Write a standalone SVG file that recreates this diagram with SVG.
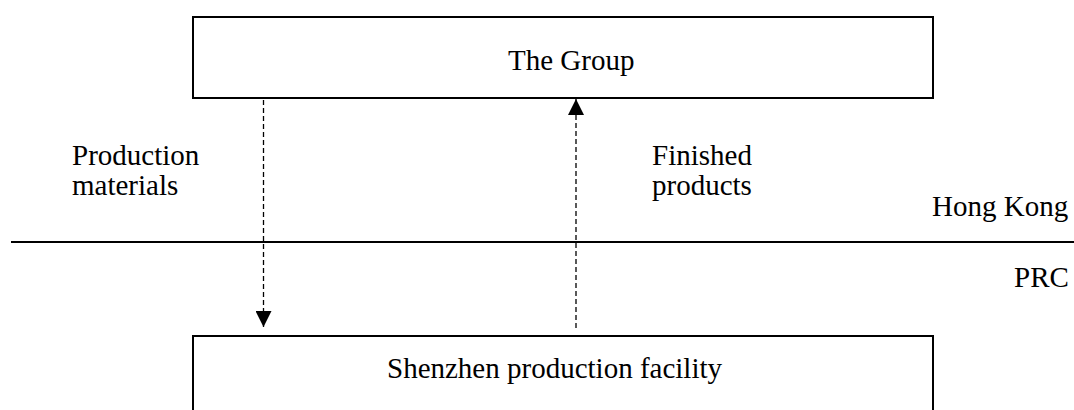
<svg xmlns="http://www.w3.org/2000/svg" width="1074" height="410" viewBox="0 0 1074 410">
<style>
.box{fill:#fff;stroke:#000;stroke-width:2}
.t{font-family:"Liberation Serif","Times New Roman",serif;font-size:29px;fill:#000}
.dash{stroke:#000;stroke-width:1.3;stroke-dasharray:5,3;fill:none}
.line{stroke:#000;stroke-width:2.2}
</style>
<defs>
<marker id="ah" viewBox="0 0 10 10" refX="10" refY="5" markerWidth="16" markerHeight="16" markerUnits="userSpaceOnUse" orient="auto">
<path d="M0,0 L10,5 L0,10 z" fill="#000"/>
</marker>
</defs>
<rect width="1074" height="410" fill="#fff"/>
<g id="group">
<rect class="box" x="193" y="17" width="740" height="81"/>
<text class="t" x="508" y="70">The Group</text>
</g>
<g id="shenzhen">
<rect class="box" x="193" y="336" width="740" height="90"/>
<text class="t" x="387" y="378">Shenzhen production facility</text>
</g>
<g id="border">
<line class="line" x1="11" y1="242" x2="1074" y2="242"/>
<text class="t" x="932" y="216">Hong Kong</text>
<text class="t" x="1014" y="287">PRC</text>
</g>
<g id="connectors">
<line class="dash" x1="263.5" y1="100" x2="263.5" y2="327" marker-end="url(#ah)"/>
<line class="dash" x1="576" y1="328" x2="576" y2="99" marker-end="url(#ah)"/>
<text class="t" x="72" y="165">Production</text>
<text class="t" x="72" y="195">materials</text>
<text class="t" x="652" y="165">Finished</text>
<text class="t" x="652" y="195">products</text>
</g>
</svg>
